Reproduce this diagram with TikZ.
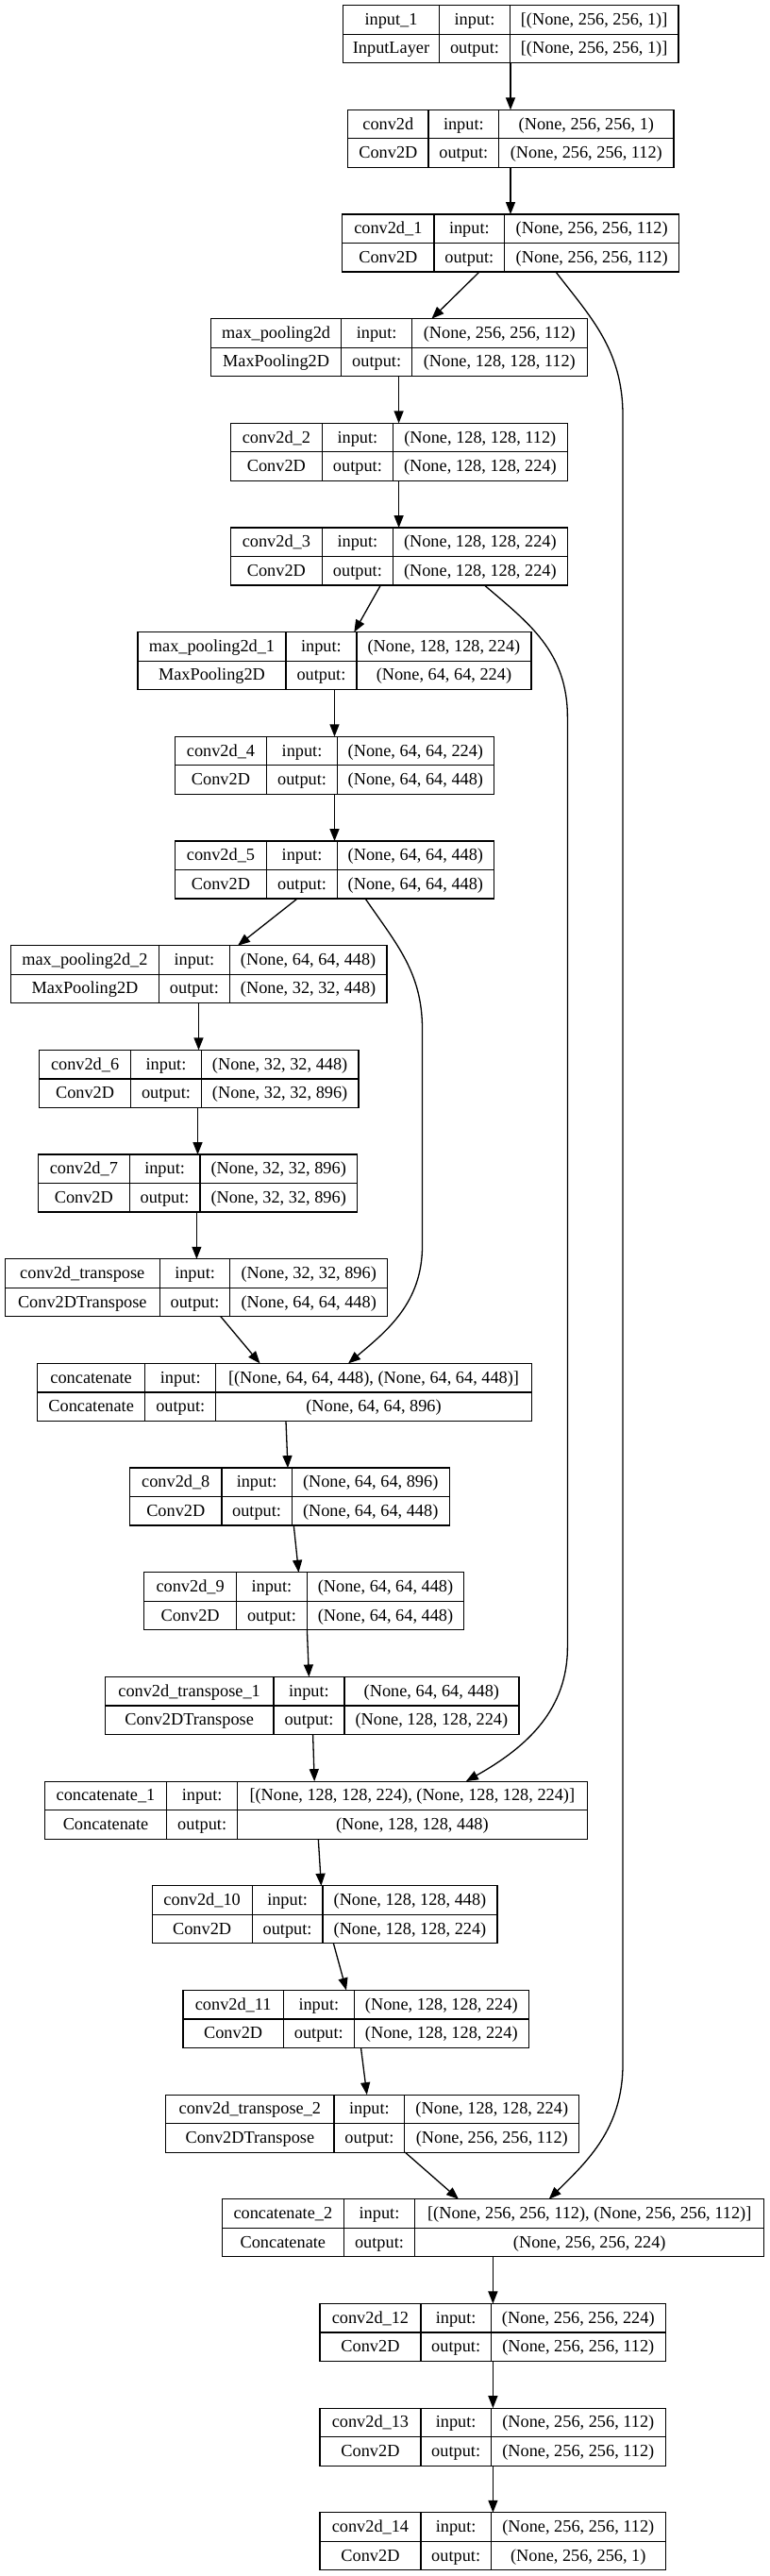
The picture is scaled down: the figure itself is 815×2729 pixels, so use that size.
\documentclass[tikz,border=0pt]{standalone}
\usepackage{fontspec}
\setmainfont{Liberation Serif}
\usetikzlibrary{arrows.meta,calc}
\begin{document}
\begin{tikzpicture}[x=1pt,y=-1pt,
  box/.style={draw, line width=1.2pt, inner sep=0pt, outer sep=0pt, anchor=north west},
  divider/.style={line width=1.2pt},
  cell/.style={inner sep=0pt, text height=13pt, text depth=2pt, font=\fontsize{18.3}{22}\selectfont},
  edge/.style={line width=1.3pt, -{Triangle[length=13pt,width=10pt]}},
]
\useasboundingbox (0,0) rectangle (815,2729);
\foreach \nm/\r/\L/\da/\db/\R/\ta/\tb/\si/\so in {
 in1/0/363.3/465.7/540.3/719/{input\_1}/{InputLayer}/{[(None, 256, 256, 1)]}/{[(None, 256, 256, 1)]},
 c0/1/368.7/454/528.7/714/{conv2d}/{Conv2D}/{(None, 256, 256, 1)}/{(None, 256, 256, 112)},
 c1/2/362.7/460/534.7/719.7/{conv2d\_1}/{Conv2D}/{(None, 256, 256, 112)}/{(None, 256, 256, 112)},
 mp0/3/223.5/361.7/436.6/622.1/{max\_pooling2d}/{MaxPooling2D}/{(None, 256, 256, 112)}/{(None, 128, 128, 112)},
 c2/4/244.3/341.5/416.3/601.4/{conv2d\_2}/{Conv2D}/{(None, 128, 128, 112)}/{(None, 128, 128, 224)},
 c3/5/244.3/341.5/416.3/601.4/{conv2d\_3}/{Conv2D}/{(None, 128, 128, 224)}/{(None, 128, 128, 224)},
 mp1/6/146/303/377.9/563/{max\_pooling2d\_1}/{MaxPooling2D}/{(None, 128, 128, 224)}/{(None, 64, 64, 224)},
 c4/7/185.3/282.7/357.4/523.4/{conv2d\_4}/{Conv2D}/{(None, 64, 64, 224)}/{(None, 64, 64, 448)},
 c5/8/185.3/282.7/357.4/523.4/{conv2d\_5}/{Conv2D}/{(None, 64, 64, 448)}/{(None, 64, 64, 448)},
 mp2/9/11.4/168.5/243.3/410/{max\_pooling2d\_2}/{MaxPooling2D}/{(None, 64, 64, 448)}/{(None, 32, 32, 448)},
 c6/10/41.5/138.7/213.3/380/{conv2d\_6}/{Conv2D}/{(None, 32, 32, 448)}/{(None, 32, 32, 896)},
 c7/11/40.5/137.2/212/378.4/{conv2d\_7}/{Conv2D}/{(None, 32, 32, 896)}/{(None, 32, 32, 896)},
 ct0/12/5.2/169.4/243.8/410.6/{conv2d\_transpose}/{Conv2DTranspose}/{(None, 32, 32, 896)}/{(None, 64, 64, 448)},
 cc0/13/39.5/153.8/228.7/563.4/{concatenate}/{Concatenate}/{[(None, 64, 64, 448), (None, 64, 64, 448)]}/{(None, 64, 64, 896)},
 c8/14/137.7/234.9/309.3/476.1/{conv2d\_8}/{Conv2D}/{(None, 64, 64, 896)}/{(None, 64, 64, 448)},
 c9/15/152.8/250.5/325.4/491.7/{conv2d\_9}/{Conv2D}/{(None, 64, 64, 448)}/{(None, 64, 64, 448)},
 ct1/16/111.2/290/364.9/549.9/{conv2d\_transpose\_1}/{Conv2DTranspose}/{(None, 64, 64, 448)}/{(None, 128, 128, 224)},
 cc1/17/47.3/176.7/251.6/622.1/{concatenate\_1}/{Concatenate}/{[(None, 128, 128, 224), (None, 128, 128, 224)]}/{(None, 128, 128, 448)},
 c10/18/161.1/267.2/342/527/{conv2d\_10}/{Conv2D}/{(None, 128, 128, 448)}/{(None, 128, 128, 224)},
 c11/19/193.9/300.4/375.3/560.3/{conv2d\_11}/{Conv2D}/{(None, 128, 128, 224)}/{(None, 128, 128, 224)},
 ct2/20/175.7/354/428.8/613.8/{conv2d\_transpose\_2}/{Conv2DTranspose}/{(None, 128, 128, 224)}/{(None, 256, 256, 112)},
 cc2/21/235.4/364.3/439.7/809.8/{concatenate\_2}/{Concatenate}/{[(None, 256, 256, 112), (None, 256, 256, 112)]}/{(None, 256, 256, 224)},
 c12/22/338.9/446/520.3/705.3/{conv2d\_12}/{Conv2D}/{(None, 256, 256, 224)}/{(None, 256, 256, 112)},
 c13/23/338.9/446/520.3/705.3/{conv2d\_13}/{Conv2D}/{(None, 256, 256, 112)}/{(None, 256, 256, 112)},
 c14/24/338.9/446/520.3/705.3/{conv2d\_14}/{Conv2D}/{(None, 256, 256, 112)}/{(None, 256, 256, 1)}%
}{
  \pgfmathsetmacro\T{5.7+110.67*\r}
  \pgfmathsetmacro\B{\T+61}
  \pgfmathsetmacro\M{\T+30.5}
  \pgfmathsetmacro\W{\R-\L}
  \pgfmathsetmacro\ya{\T+15.25}
  \pgfmathsetmacro\yb{\T+45.75}
  \pgfmathsetmacro\xa{(\L+\da)/2}
  \pgfmathsetmacro\xb{(\da+\db)/2}
  \pgfmathsetmacro\xc{(\db+\R)/2}
  \node[box, minimum width=\W pt, minimum height=61pt] (\nm) at (\L,\T) {};
  \draw[divider] (\da,\T) -- (\da,\B);
  \draw[divider] (\db,\T) -- (\db,\B);
  \draw[divider] (\L,\M) -- (\R,\M);
  \node[cell] at (\xa,\ya) {\ta};
  \node[cell] at (\xa,\yb) {\tb};
  \node[cell] at (\xb,\ya) {input:};
  \node[cell] at (\xb,\yb) {output:};
  \node[cell] at (\xc,\ya) {\si};
  \node[cell] at (\xc,\yb) {\so};
}
% straight connectors
\draw[edge] (541,0|-in1.south) -- (541,0|-c0.north);
\draw[edge] (541,0|-c0.south) -- (541,0|-c1.north);
\draw[edge] (508,0|-c1.south) -- (457.4,0|-mp0.north);
\draw[edge] (422.6,0|-mp0.south) -- (422.6,0|-c2.north);
\draw[edge] (422.6,0|-c2.south) -- (422.6,0|-c3.north);
\draw[edge] (403.3,0|-c3.south) -- (375.3,0|-mp1.north);
\draw[edge] (354.5,0|-mp1.south) -- (354.5,0|-c4.north);
\draw[edge] (354.5,0|-c4.south) -- (354.5,0|-c5.north);
\draw[edge] (315,0|-c5.south) -- (252,0|-mp2.north);
\draw[edge] (210.5,0|-mp2.south) -- (210.5,0|-c6.north);
\draw[edge] (209.5,0|-c6.south) -- (209.5,0|-c7.north);
\draw[edge] (208.4,0|-c7.south) -- (208.4,0|-ct0.north);
\draw[edge] (233.9,0|-ct0.south) -- (275.5,0|-cc0.north);
\draw[edge] (303,0|-cc0.south) -- (305,0|-c8.north);
\draw[edge] (311.3,0|-c8.south) -- (316.5,0|-c9.north);
\draw[edge] (325.4,0|-c9.south) -- (327.4,0|-ct1.north);
\draw[edge] (331.6,0|-ct1.south) -- (333.2,0|-cc1.north);
\draw[edge] (337.3,0|-cc1.south) -- (340.4,0|-c10.north);
\draw[edge] (353.4,0|-c10.south) -- (367,0|-c11.north);
\draw[edge] (382.5,0|-c11.south) -- (388.8,0|-ct2.north);
\draw[edge] (429.3,0|-ct2.south) -- (486,0|-cc2.north);
\draw[edge] (522.4,0|-cc2.south) -- (522.4,0|-c12.north);
\draw[edge] (522.4,0|-c12.south) -- (522.4,0|-c13.north);
\draw[edge] (522.4,0|-c13.south) -- (522.4,0|-c14.north);
% skip connectors
\draw[edge] (589,0|-c1.south) .. controls (625,335) and (660,370) .. (660,440)
  -- (660,2187) .. controls (660,2255) and (622,2290) .. (581.7,0|-cc2.north);
\draw[edge] (513.5,0|-c3.south) .. controls (560,660) and (601.4,690) .. (601.4,760)
  -- (601.4,1745) .. controls (601.4,1810) and (560,1850) .. (493.8,0|-cc1.north);
\draw[edge] (387.2,0|-c5.south) .. controls (420,1000) and (447.5,1030) .. (447.5,1090)
  -- (447.5,1320) .. controls (447.5,1380) and (410,1410) .. (369,0|-cc0.north);
\end{tikzpicture}
\end{document}
